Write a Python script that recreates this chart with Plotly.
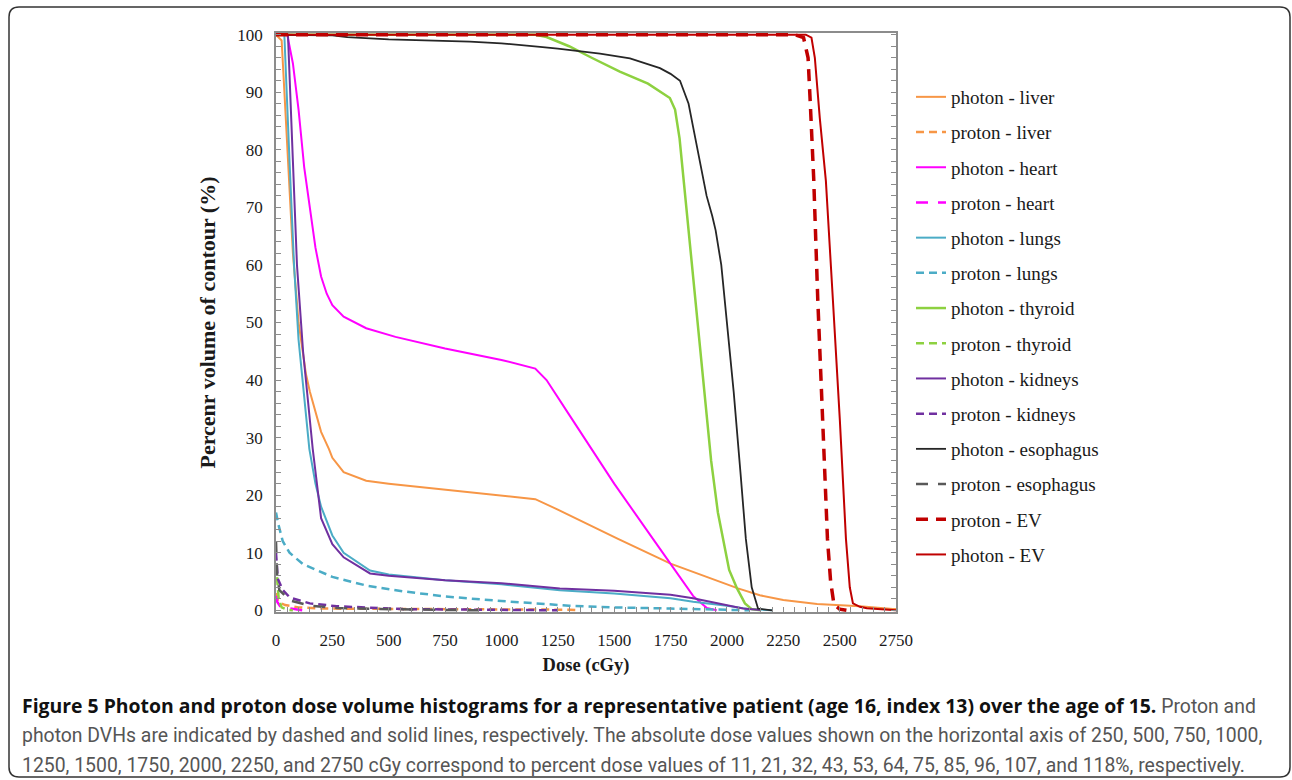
import plotly.graph_objects as go

# ---------------- data (dose in cGy, percent volume) ----------------
liver_ph_x = [0, 25, 40, 53, 75, 100, 133, 150, 200, 235, 250, 300, 400, 500, 750, 1000, 1150, 1250, 1517, 1750, 2049, 2146, 2250, 2400, 2590, 2736, 2750]
liver_ph_y = [100, 99, 88, 77.5, 62, 50, 41, 38, 31, 28, 26.5, 24, 22.5, 22, 21, 20, 19.3, 17.5, 12.4, 8.1, 3.8, 2.6, 1.8, 1.1, 0.7, 0.2, 0.2]
liver_pr_x = [0, 10, 40, 100, 200, 500, 1000, 1300, 1350]
liver_pr_y = [3, 1.5, 0.9, 0.5, 0.3, 0.2, 0.15, 0.1, 0]

heart_ph_x = [0, 50, 75, 100, 125, 150, 175, 200, 225, 250, 300, 400, 530, 750, 1000, 1150, 1200, 1300, 1500, 1672, 1750, 1850, 1911, 1955]
heart_ph_y = [100, 100, 95, 87, 77, 70, 63, 58, 55, 53, 51, 49, 47.5, 45.5, 43.5, 42, 40, 34, 22, 12.4, 8, 2.5, 0.4, 0]
heart_pr_x = [0, 5, 20, 60, 100, 120]
heart_pr_y = [2.5, 1.5, 0.6, 0.3, 0.1, 0]

lungs_ph_x = [0, 37, 60, 80, 100, 125, 148, 175, 200, 250, 300, 417, 500, 750, 1000, 1259, 1500, 1750, 1850, 2000, 2100, 2200]
lungs_ph_y = [100, 100, 78, 60, 47, 37, 28, 22, 18, 13, 10, 6.9, 6.2, 5.2, 4.5, 3.5, 2.9, 2.1, 1.5, 0.8, 0.2, 0]
lungs_pr_x = [0, 10, 30, 60, 120, 250, 400, 563, 750, 1000, 1300, 1500, 1750, 2000, 2100]
lungs_pr_y = [17, 15, 12, 10, 8, 5.8, 4.3, 3.3, 2.4, 1.6, 0.8, 0.5, 0.3, 0.1, 0]

thyroid_ph_x = [0, 1150, 1200, 1300, 1400, 1525, 1650, 1747, 1770, 1790, 1810, 1840, 1870, 1900, 1930, 1960, 1983, 2010, 2045, 2080, 2110, 2150]
thyroid_ph_y = [100, 100, 99.6, 98, 96, 93.6, 91.5, 89, 87, 82, 74, 62, 49, 37, 26, 17, 12.4, 7, 3.8, 1.2, 0.2, 0]
thyroid_pr_x = [0, 5, 12, 25, 50, 75]
thyroid_pr_y = [8, 5, 2, 0.5, 0.1, 0]

kidneys_ph_x = [0, 53, 75, 93, 120, 163, 200, 250, 300, 417, 500, 750, 1000, 1259, 1500, 1750, 1850, 1950, 2000, 2071, 2150]
kidneys_ph_y = [100, 100, 78, 60, 45, 28, 16, 11.5, 9.2, 6.4, 6.0, 5.2, 4.7, 3.8, 3.4, 2.7, 2.1, 1.3, 0.8, 0.3, 0.05]
kidneys_pr_x = [0, 8, 30, 62, 150, 270, 563, 1000, 1250]
kidneys_pr_y = [10, 5.5, 3.5, 2.2, 1.2, 0.7, 0.2, 0.05, 0]

esoph_ph_x = [0, 250, 315, 500, 860, 1000, 1171, 1250, 1437, 1570, 1703, 1750, 1792, 1830, 1850, 1880, 1910, 1935, 1950, 1975, 2000, 2030, 2060, 2084, 2110, 2138, 2200]
esoph_ph_y = [100, 99.9, 99.6, 99.2, 98.8, 98.5, 97.9, 97.6, 96.7, 95.9, 94.2, 93.2, 92, 88, 84, 78, 72, 68.5, 66, 60, 50, 38, 24, 12.4, 4, 0.3, 0]
esoph_pr_x = [0, 5, 15, 62, 150, 270, 460, 700, 900]
esoph_pr_y = [12, 6, 3.5, 1.7, 0.8, 0.4, 0.2, 0.05, 0]

ev_pr_x = [0, 2300, 2340, 2360, 2370, 2385, 2403, 2430, 2446, 2460, 2475, 2500, 2530]
ev_pr_y = [100, 100, 99.5, 96, 88, 75, 54, 28, 12.4, 5, 1, 0.2, 0]
ev_ph_x = [0, 2350, 2375, 2390, 2412, 2439, 2470, 2501, 2528, 2545, 2559, 2590, 2621, 2723, 2750]
ev_ph_y = [100, 100, 99.5, 96, 85.5, 74.6, 54, 33, 12.4, 4, 1.2, 0.6, 0.35, 0.1, 0]

x_ticks = [0, 250, 500, 750, 1000, 1250, 1500, 1750, 2000, 2250, 2500, 2750]
y_ticks = [0, 10, 20, 30, 40, 50, 60, 70, 80, 90, 100]

series = [
    ("photon - liver", liver_ph_x, liver_ph_y, "#F79646", "solid", 2),
    ("proton - liver", liver_pr_x, liver_pr_y, "#F79646", "8px,5px", 2.5),
    ("photon - heart", heart_ph_x, heart_ph_y, "#FF00FF", "solid", 2),
    ("proton - heart", heart_pr_x, heart_pr_y, "#FF00FF", "12px,10px", 2.5),
    ("photon - lungs", lungs_ph_x, lungs_ph_y, "#4BACC6", "solid", 2),
    ("proton - lungs", lungs_pr_x, lungs_pr_y, "#4BACC6", "8px,5px", 2.5),
    ("photon - thyroid", thyroid_ph_x, thyroid_ph_y, "#8DD140", "solid", 2.5),
    ("proton - thyroid", thyroid_pr_x, thyroid_pr_y, "#8DD140", "8px,5px", 2.5),
    ("photon - kidneys", kidneys_ph_x, kidneys_ph_y, "#7030A0", "solid", 2),
    ("proton - kidneys", kidneys_pr_x, kidneys_pr_y, "#7030A0", "8px,5px", 2.5),
    ("photon - esophagus", esoph_ph_x, esoph_ph_y, "#262626", "solid", 1.8),
    ("proton - esophagus", esoph_pr_x, esoph_pr_y, "#595959", "12px,10px", 2.5),
    ("proton - EV", ev_pr_x, ev_pr_y, "#C00000", "12px,8px", 3.5),
    ("photon - EV", ev_ph_x, ev_ph_y, "#C00000", "solid", 2),
]

W, H = 1292, 780
fig = go.Figure()
for i, (name, xs, ys, col, dash, lw) in enumerate(series):
    fig.add_trace(go.Scatter(x=xs, y=ys, mode="lines", name=name, legendgroup=f"g{i}",
                             line=dict(color=col, dash=dash, width=lw)))

axis_col = "#8C8C8C"
serif = "Liberation Serif"
txt_col = "#1a1a1a"
fig.update_layout(
    width=W, height=H, autosize=False,
    margin=dict(l=0, r=0, t=0, b=0),
    paper_bgcolor="white", plot_bgcolor="white",
    showlegend=True,
    legend=dict(x=911 / W, y=1 - 78 / H, xanchor="left", yanchor="top",
                font=dict(family=serif, size=19, color=txt_col),
                tracegroupgap=7.5, itemwidth=30, bgcolor="rgba(0,0,0,0)",
                traceorder="grouped"),
    xaxis=dict(domain=[276 / W, 896 / W], range=[0, 2750], tickvals=x_ticks,
               ticktext=[str(v) for v in x_ticks],
               showgrid=False, zeroline=False, showline=True, linecolor=axis_col, linewidth=1.5,
               mirror=True, ticks="inside", ticklen=5, tickcolor=axis_col,
               minor=dict(dtick=50, ticks="inside", ticklen=5, tickcolor=axis_col, showgrid=False),
               tickfont=dict(family=serif, size=17, color=txt_col), ticklabelstandoff=12,
               title=dict(text="<b>Dose (cGy)</b>", font=dict(family=serif, size=18.5, color=txt_col), standoff=9),
               automargin=False),
    yaxis=dict(domain=[(H - 612) / H, (H - 33) / H], range=[-0.3, 100.3], tickvals=y_ticks,
               showgrid=False, zeroline=False, showline=True, linecolor=axis_col, linewidth=1.5,
               mirror="ticks", ticks="inside", ticklen=5, tickcolor=axis_col,
               minor=dict(dtick=2, ticks="inside", ticklen=5, tickcolor=axis_col, showgrid=False),
               tickfont=dict(family=serif, size=17, color=txt_col), ticklabelstandoff=8,
               title=dict(text="<b>Percenr volume of contour (%)</b>", font=dict(family=serif, size=22, color=txt_col), standoff=16),
               automargin=False),
)

# rounded frame around the whole figure
x0, y0, x1, y1, r = 9 / W, 1 - 7 / H, 1290 / W, 1 - 777 / H, 10
rx, ry = r / W, r / H
path = (f"M {x0},{y1 + ry} L {x0},{y0 - ry} Q {x0},{y0} {x0 + rx},{y0} "
        f"L {x1 - rx},{y0} Q {x1},{y0} {x1},{y0 - ry} L {x1},{y1 + ry} "
        f"Q {x1},{y1} {x1 - rx},{y1} L {x0 + rx},{y1} Q {x0},{y1} {x0},{y1 + ry} Z")
fig.add_shape(type="path", path=path, xref="paper", yref="paper",
              line=dict(color="#333333", width=1.5), fillcolor="rgba(0,0,0,0)")

cap_font = dict(family="Roboto", size=19.4, color="#555555")
caption_lines = [
    "<span style='font-family:Open Sans;font-weight:bold;color:#111111'>Figure 5 Photon and proton dose volume histograms for a representative patient (age 16, index 13) over the age of 15.</span> Proton and",
    "photon DVHs are indicated by dashed and solid lines, respectively. The absolute dose values shown on the horizontal axis of 250, 500, 750, 1000,",
    "1250, 1500, 1750, 2000, 2250, and 2750 cGy correspond to percent dose values of 11, 21, 32, 43, 53, 64, 75, 85, 96, 107, and 118%, respectively.",
]
for i, t in enumerate(caption_lines):
    fig.add_annotation(text=t, x=20 / W, y=1 - (705 + 30 * i) / H, xref="paper", yref="paper",
                       xanchor="left", yanchor="middle", showarrow=False, font=cap_font, align="left")

fig.write_html("out.html", config={"displayModeBar": False},
               post_script="document.body.style.margin='0px';document.body.style.overflow='hidden';")
